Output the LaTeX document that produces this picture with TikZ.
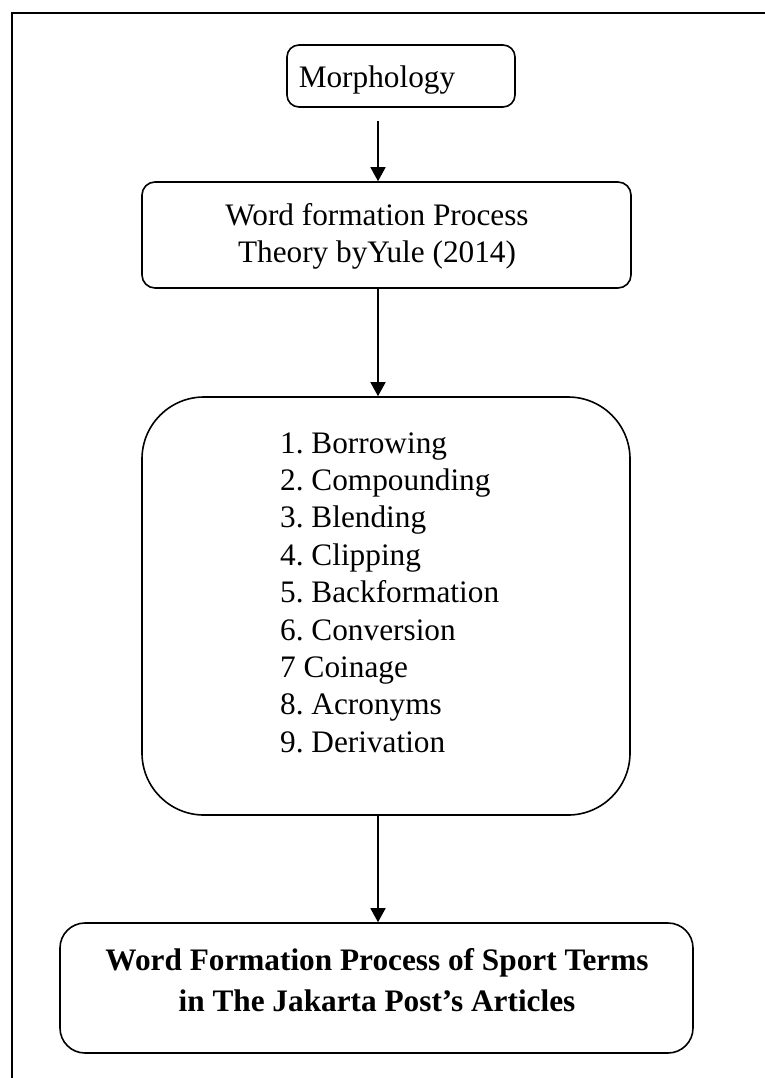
\documentclass[tikz,border=0pt]{standalone}
\usepackage{fontspec}
\setmainfont{Liberation Serif}
\usetikzlibrary{arrows.meta}
\frenchspacing
\begin{document}
\begin{tikzpicture}[x=1bp,y=-1bp,
  box/.style={draw, line width=1.6bp, inner sep=0pt},
  txt/.style={inner sep=0pt, font=\fontsize{31.4}{37.4}\selectfont},
  btxt/.style={inner sep=0pt, font=\fontsize{31.4}{37.4}\selectfont\bfseries},
  arr/.style={line width=1.6bp, -{Triangle[width=15bp,length=14bp]}}]
\useasboundingbox (0,0) rectangle (765,1078);
% outer frame (only left and top edges visible)
\draw[line width=2bp] (12,1078) -- (12,13) -- (765,13);
% boxes
\node[box, rounded corners=12bp, minimum width=228bp, minimum height=62bp] (m) at (401,76) {};
\node[box, rounded corners=13bp, minimum width=489bp, minimum height=106bp] (w) at (386.5,235) {};
\node[box, rounded corners=62bp, minimum width=488bp, minimum height=418bp] (l) at (386,606) {};
\node[box, rounded corners=25bp, minimum width=633bp, minimum height=130bp] (r) at (376.5,988) {};
% texts
\node[txt, anchor=base] (mt) at (377,87) {Morphology};
\node[txt, anchor=base] (wt1) at (377,225) {Word formation Process};
\node[txt, anchor=base] (wt2) at (377,262) {Theory byYule (2014)};
\foreach \i/\t in {1/1. Borrowing,2/2. Compounding,3/3. Blending,4/4. Clipping,5/5. Backformation,6/6. Conversion,7/7 Coinage,8/8. Acronyms,9/9. Derivation}
  \node[txt, anchor=base west] (l\i) at (280,{453+37.4*(\i-1)}) {\t};
\node[btxt, anchor=base] (rt1) at (377,970) {Word Formation Process of Sport Terms};
\node[btxt, anchor=base] (rt2) at (377,1011) {in The Jakarta Post’s Articles};
% arrows
\coordinate (ax) at (378,0);
\draw[arr, shorten <=13bp] (m.south -| ax) -- (w.north -| ax);
\draw[arr] (w.south -| ax) -- (l.north -| ax);
\draw[arr] (l.south -| ax) -- (r.north -| ax);
\end{tikzpicture}
\end{document}
